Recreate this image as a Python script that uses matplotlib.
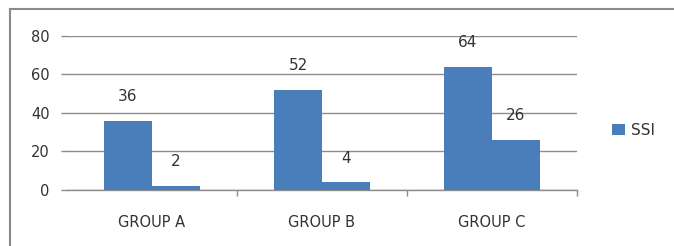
import matplotlib

matplotlib.use("Agg")
import matplotlib.pyplot as plt
from matplotlib.lines import Line2D
from matplotlib.ticker import FixedLocator

categories = ["GROUP A", "GROUP B", "GROUP C"]
first_values = [36, 52, 64]
second_values = [2, 4, 26]
y_ticks = [0, 20, 40, 60, 80]
legend_label = "SSI"

BAR_COLOR = "#4a7ebb"
GRID_COLOR = "#8c8c8c"
TEXT_COLOR = "#333333"

plt.rcParams["font.family"] = ["DejaVu Sans"]

fig = plt.figure(figsize=(6.74, 2.46), dpi=100)
fig.patch.set_facecolor("white")
ax = fig.add_axes([67 / 674, 0.228, 510 / 674, 0.626])

x = list(range(len(categories)))
width = 0.282
left_x = [i - width / 2 for i in x]
right_x = [i + width / 2 for i in x]
bars1 = ax.bar(left_x, first_values, width=width, color=BAR_COLOR, label=legend_label, zorder=3)
bars2 = ax.bar(right_x, second_values, width=width, color=BAR_COLOR, zorder=3)

for bars, vals in ((bars1, first_values), (bars2, second_values)):
    for b, v in zip(bars, vals):
        ax.annotate(
            str(v),
            (b.get_x() + b.get_width() / 2, v),
            xytext=(0, 12),
            textcoords="offset points",
            ha="center",
            va="bottom",
            fontsize=11,
            color=TEXT_COLOR,
        )

ax.set_xlim(-0.5, 2.5)
ax.set_ylim(0, 80)
ax.set_yticks(y_ticks)
ax.set_xticks(x)
ax.set_xticklabels(categories)
ax.xaxis.set_minor_locator(FixedLocator([0.5, 1.5, 2.5]))
ax.tick_params(axis="x", which="major", length=0, pad=18, labelsize=10.5, colors=TEXT_COLOR)
ax.tick_params(axis="x", which="minor", length=4.5, width=1.0, color=GRID_COLOR)
ax.tick_params(axis="y", length=4.5, width=1.0, color=GRID_COLOR, pad=8, labelsize=10.5, labelcolor=TEXT_COLOR)

ax.grid(True, axis="y", color=GRID_COLOR, linewidth=1.0, zorder=0)
for side in ("top", "right", "left"):
    ax.spines[side].set_visible(False)
ax.spines["bottom"].set_color(GRID_COLOR)
ax.spines["bottom"].set_linewidth(1.0)

fig.legend(
    loc="center",
    bbox_to_anchor=(0.94, 0.47),
    frameon=False,
    fontsize=11,
    handlelength=0.8,
    handleheight=0.8,
    handletextpad=0.4,
    labelcolor=TEXT_COLOR,
)

# outer chart frame (only top and left edges visible in the crop)
bx = 10 / 674
by = 1 - 9 / 246
fig.add_artist(Line2D([bx, bx], [0, by], transform=fig.transFigure, color="#8a8a8a", linewidth=1.5))
fig.add_artist(Line2D([bx, 1], [by, by], transform=fig.transFigure, color="#8a8a8a", linewidth=1.5))

fig.savefig("out.png", dpi=100)
